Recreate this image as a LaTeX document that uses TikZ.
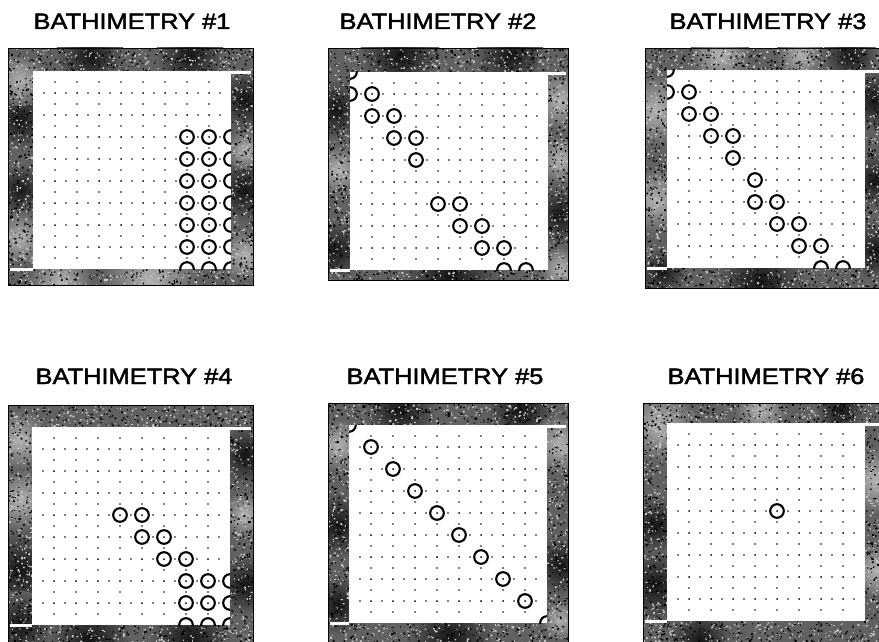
\documentclass[tikz,border=0pt]{standalone}
\usepackage{fontspec}
\setmainfont{Liberation Sans}
\newfontfamily\ttlfont[FakeBold=1.8]{Liberation Sans}
\tikzset{
  ttl/.style={font=\ttlfont\fontsize{22.3}{26}\selectfont, inner sep=0pt, anchor=base},
  wetc/.style={draw=black, line width=2.1pt},
  framebase/.style={fill=black!62},
  frameline/.style={draw=black, line width=0.9pt},
}
\newcommand\dkblob[3]{\shade[inner color=black!92, outer color=black!62] (#1,#2) circle[radius=#3pt];}
\newcommand\ltblob[3]{\shade[inner color=black!30, outer color=black!62] (#1,#2) circle[radius=#3pt];}
\newcommand\specks[5]{%
  \pgfmathsetmacro\Xa{#1}\pgfmathsetmacro\Ya{#2}%
  \pgfmathsetmacro\Xb{#3}\pgfmathsetmacro\Yb{#4}%
  \pgfmathsetseed{#5}%
  \pgfmathtruncatemacro\nn{max(2,0.035*(\Xb-\Xa)*(\Yb-\Ya))}%
  \fill[black!22] \foreach \k in {1,...,\nn}{ ({\Xa+rnd*(\Xb-\Xa)},{\Ya+rnd*(\Yb-\Ya)}) rectangle ++({0.7+1.4*rnd},{0.7+1.4*rnd}) };
  \fill[black] \foreach \k in {1,...,\nn}{ ({\Xa+rnd*(\Xb-\Xa)},{\Ya+rnd*(\Yb-\Ya)}) rectangle ++({0.7+1.4*rnd},{0.7+1.4*rnd}) };
}
% #1 #2 #3 #4 outer box ; #5 #6 inner top-left ; #7 seed
\newcommand\ringspecks[7]{%
  \specks{#1}{#2}{#3}{#6}{#7}%
  \specks{#1}{#6+198}{#3}{#4}{#7+1}%
  \specks{#1}{#6}{#5}{#6+198}{#7+2}%
  \specks{#5+198}{#6}{#3}{#6+198}{#7+3}}
\newcommand\gridpanel[2]{%
  \foreach \i in {1,...,8}{\foreach \j in {1,...,8}{\fill ({#1+22*\i},{#2+22*\j}) circle[radius=1.0pt];}}
  \foreach \i in {0,...,8}{\foreach \j in {1,...,8}{\fill ({#1+22*\i+11},{#2+22*\j}) circle[radius=0.85pt];}}
  \foreach \i in {1,...,8}{\foreach \j in {0,...,8}{\fill ({#1+22*\i},{#2+22*\j+11}) circle[radius=0.85pt];}}}
\newcommand\wet[3]{%
  \begin{scope}
    \clip (#1,#2) rectangle ++(198,198);
    \foreach \c/\r in {#3}{\draw[wetc] ({#1+22*\c},{#2+22*\r}) circle[radius=6.8pt];}
  \end{scope}}
% inner box and white ledges: #1 #2 outer left/right, #3 #4 inner top-left
\newcommand\innerbox[4]{%
  \fill[white] (#3,#4) rectangle ++(198,198);
  \fill[white] ({#1+2},{#4+197}) rectangle (#3,{#4+200});
  \fill[white] ({#3+198},#4) rectangle ({#2-2},{#4+3});}
\begin{document}
\begin{tikzpicture}[x=1pt,y=-1pt]
\useasboundingbox (0,0) rectangle (879,642);
\fill[white] (0,0) rectangle (879,642);

% titles
\node[ttl] (t1) at (132,29) {\scalebox{1.14}[1]{BATHIMETRY \#1}};
\node[ttl] (t2) at (438,29) {\scalebox{1.14}[1]{BATHIMETRY \#2}};
\node[ttl] (t3) at (768,29) {\scalebox{1.14}[1]{BATHIMETRY \#3}};
\node[ttl] (t4) at (134,384) {\scalebox{1.14}[1]{BATHIMETRY \#4}};
\node[ttl] (t5) at (445,384) {\scalebox{1.14}[1]{BATHIMETRY \#5}};
\node[ttl] (t6) at (766,384) {\scalebox{1.14}[1]{BATHIMETRY \#6}};

% ---------- panel 1
\begin{scope}
  \clip (8,48) rectangle (253,285);
  \fill[framebase] (8,48) rectangle (253,285);
  \dkblob{20}{120}{30} \dkblob{20}{190}{26} \dkblob{245}{100}{30} \dkblob{245}{190}{32}
  \dkblob{90}{55}{34} \dkblob{190}{55}{34}
  \ltblob{20}{80}{26} \ltblob{20}{238}{26} \ltblob{245}{150}{20} \ltblob{245}{255}{26}
  \ltblob{150}{280}{48} \ltblob{60}{282}{32}
  \ringspecks{8}{48}{253}{285}{33}{71}{11}
\end{scope}
\draw[frameline] (8,48) rectangle (253,285);
\innerbox{8}{253}{33}{71}
\gridpanel{33}{71}
\wet{33}{71}{7/3,8/3,9/3,7/4,8/4,9/4,7/5,8/5,9/5,7/6,8/6,9/6,7/7,8/7,9/7,7/8,8/8,9/8,7/9,8/9,9/9}

% ---------- panel 2
\begin{scope}
  \clip (328,48) rectangle (568,280);
  \fill[framebase] (328,48) rectangle (568,280);
  \dkblob{400}{55}{40} \dkblob{510}{55}{34} \dkblob{335}{110}{30} \dkblob{335}{250}{30}
  \dkblob{560}{215}{30} \dkblob{450}{277}{48}
  \ltblob{338}{170}{26} \ltblob{560}{100}{30} \ltblob{560}{160}{24} \ltblob{560}{268}{22}
  \ringspecks{328}{48}{568}{280}{350}{72}{21}
\end{scope}
\draw[frameline] (328,48) rectangle (568,280);
\innerbox{328}{568}{350}{72}
\gridpanel{350}{72}
\wet{350}{72}{0/0,0/1,1/1,1/2,2/2,2/3,3/3,3/4,4/6,5/6,5/7,6/7,6/8,7/8,7/9,8/9}

% ---------- panel 3
\begin{scope}
  \clip (645,48) rectangle (887,288);
  \fill[framebase] (645,48) rectangle (887,288);
  \ltblob{655}{110}{36} \ltblob{655}{200}{32} \ltblob{720}{55}{30} \ltblob{800}{55}{24}
  \dkblob{875}{100}{30} \dkblob{875}{180}{28} \dkblob{875}{250}{30}
  \dkblob{760}{282}{44} \dkblob{662}{272}{24} \dkblob{850}{55}{27}
  \ringspecks{645}{48}{887}{288}{667}{70}{31}
\end{scope}
\draw[frameline] (645,48) rectangle (887,288);
\innerbox{645}{887}{667}{70}
\gridpanel{667}{70}
\wet{667}{70}{0/0,0/1,1/1,1/2,2/2,2/3,3/3,3/4,4/5,4/6,5/6,5/7,6/7,6/8,7/8,7/9,8/9}

% ---------- panel 4
\begin{scope}
  \clip (8,405) rectangle (253,650);
  \fill[framebase] (8,405) rectangle (253,650);
  \ltblob{20}{440}{30} \ltblob{20}{500}{30} \ltblob{245}{515}{24}
  \dkblob{20}{570}{40} \dkblob{20}{625}{34} \dkblob{245}{455}{30} \dkblob{245}{585}{30}
  \dkblob{90}{640}{42} \dkblob{190}{640}{42}
  \ringspecks{8}{405}{253}{650}{32}{427}{41}
\end{scope}
\draw[frameline] (8,405) rectangle (253,650);
\innerbox{8}{253}{32}{427}
\gridpanel{32}{427}
\wet{32}{427}{4/4,5/4,5/5,6/5,6/6,7/6,7/7,8/7,9/7,7/8,8/8,9/8,7/9,8/9,9/9}

% ---------- panel 5
\begin{scope}
  \clip (328,403) rectangle (568,650);
  \fill[framebase] (328,403) rectangle (568,650);
  \dkblob{400}{410}{36} \dkblob{520}{410}{34} \dkblob{338}{525}{34} \dkblob{338}{605}{30}
  \dkblob{560}{565}{30} \dkblob{450}{638}{44}
  \ltblob{338}{445}{26} \ltblob{560}{445}{30} \ltblob{560}{620}{20}
  \ringspecks{328}{403}{568}{650}{349}{425}{51}
\end{scope}
\draw[frameline] (328,403) rectangle (568,650);
\innerbox{328}{568}{349}{425}
\gridpanel{349}{425}
\wet{349}{425}{0/0,1/1,2/2,3/3,4/4,5/5,6/6,7/7,8/8,9/9}

% ---------- panel 6
\begin{scope}
  \clip (643,403) rectangle (887,650);
  \fill[framebase] (643,403) rectangle (887,650);
  \ltblob{660}{425}{36} \ltblob{760}{410}{26} \ltblob{875}{480}{34} \ltblob{875}{570}{28}
  \dkblob{655}{585}{36} \dkblob{655}{525}{28} \dkblob{700}{640}{32} \dkblob{840}{410}{24}
  \ringspecks{643}{403}{887}{650}{667}{423}{61}
\end{scope}
\draw[frameline] (643,403) rectangle (887,650);
\innerbox{643}{887}{667}{423}
\gridpanel{667}{423}
\wet{667}{423}{5/4}
\end{tikzpicture}
\end{document}
